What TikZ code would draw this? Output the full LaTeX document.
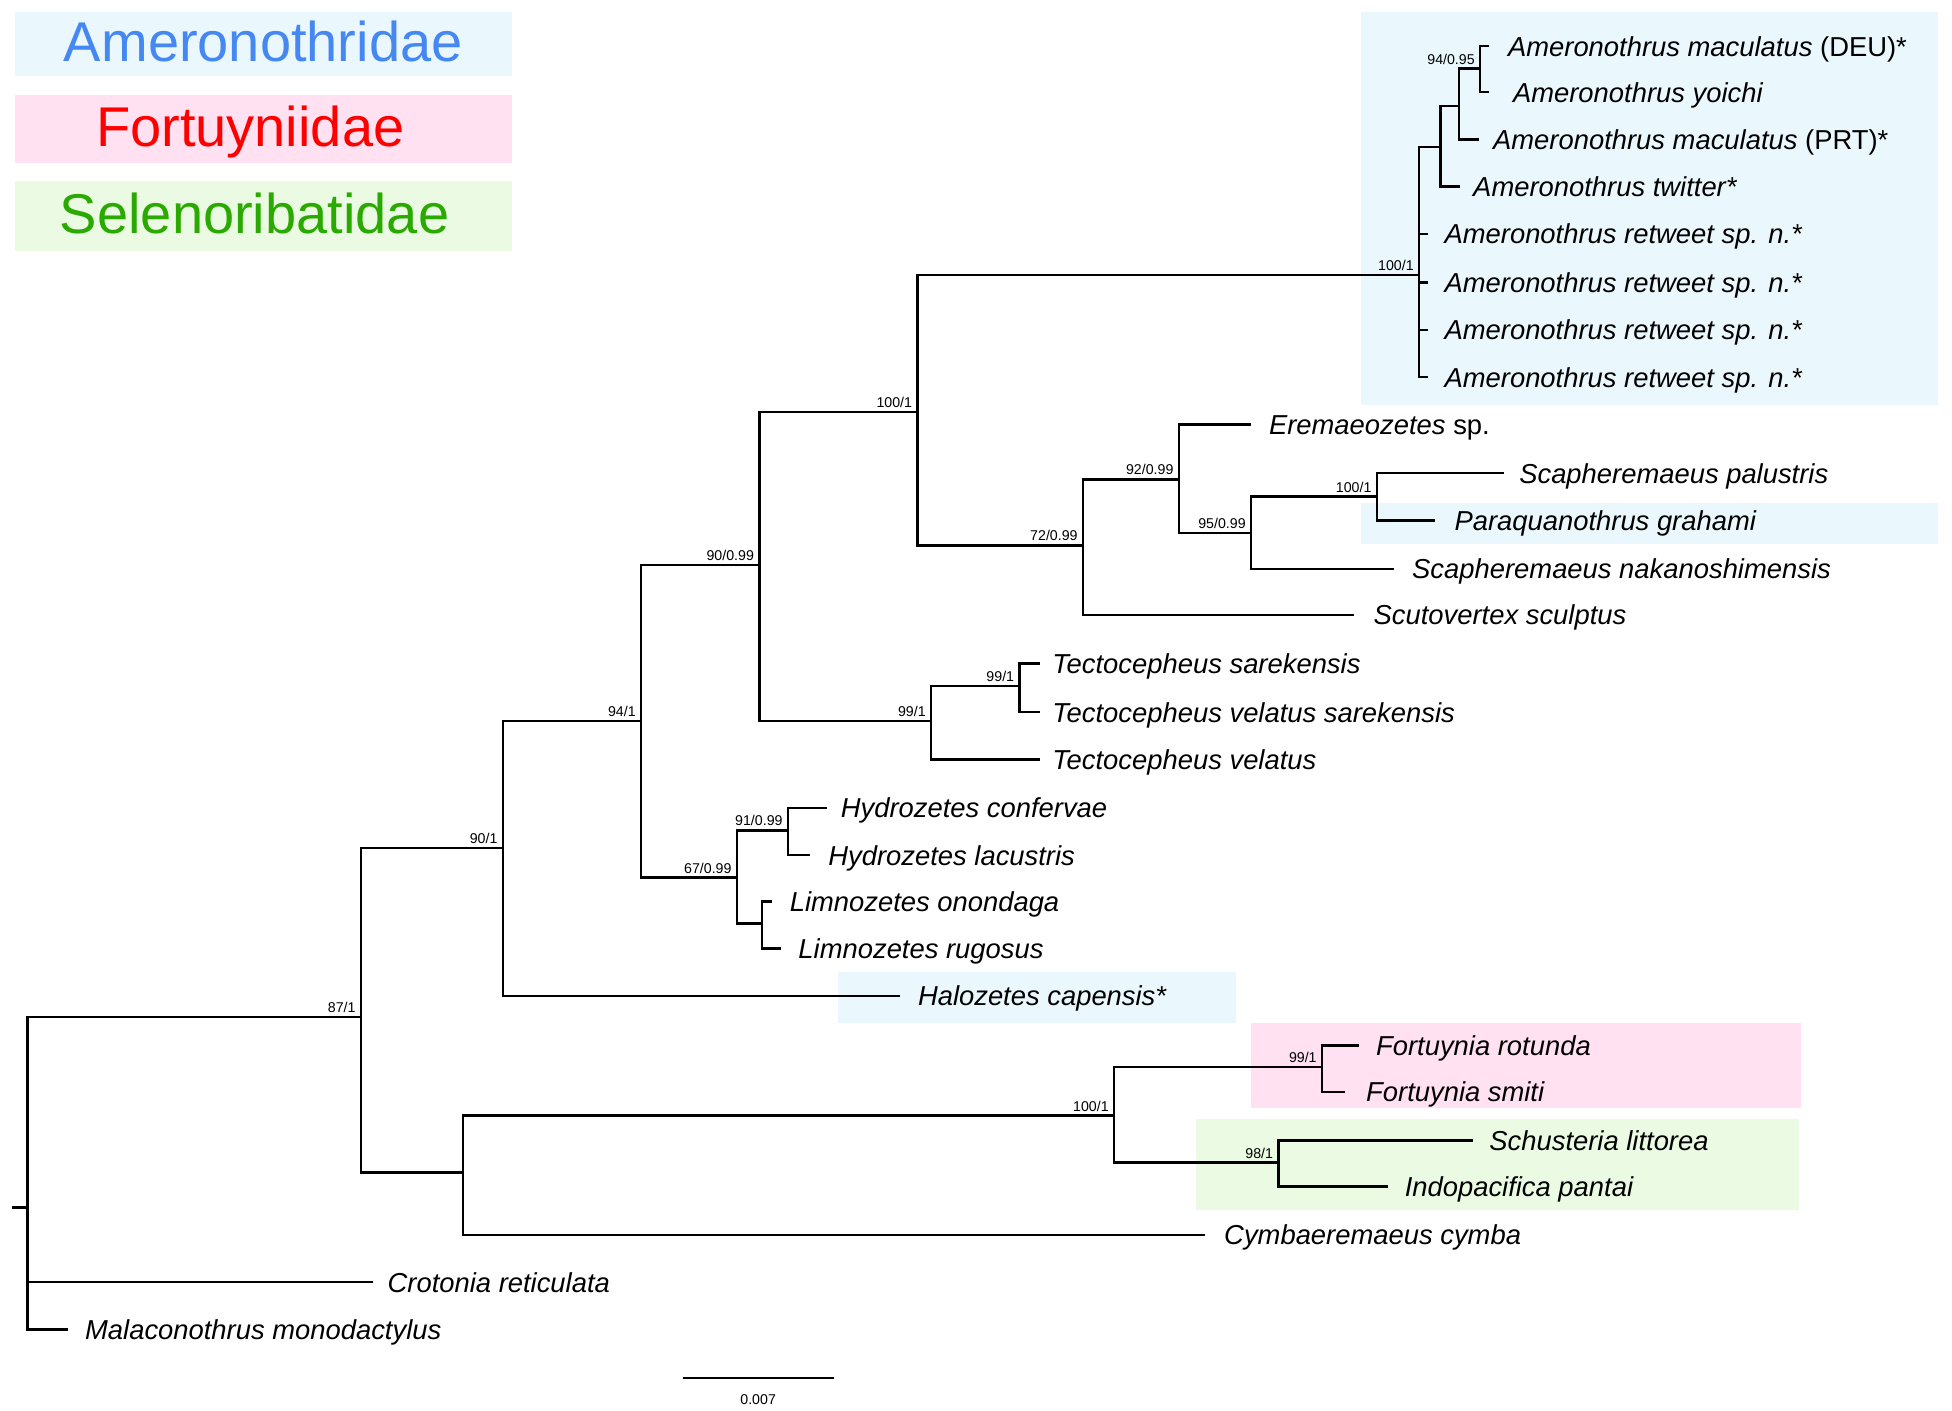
\documentclass[tikz,border=0pt]{standalone}
\usepackage{fontspec}
\setmainfont{Liberation Sans}
\usepackage{xcolor}
\usetikzlibrary{positioning}
\definecolor{AmeroFill}{HTML}{EAF8FE}
\definecolor{FortuFill}{HTML}{FFE1F1}
\definecolor{SelenoFill}{HTML}{EBFBE3}
\definecolor{AmeroText}{HTML}{4588F2}
\definecolor{FortuText}{HTML}{FF0000}
\definecolor{SelenoText}{HTML}{2AAA00}
\tikzset{
  % rami dell'albero
  branch/.style={line width=1pt,black},
  % nomi dei taxa e supporti
  taxon/.style={anchor=base west,inner sep=0pt,yshift=-4pt,font=\fontsize{11}{13}\selectfont\itshape},
  support/.style={anchor=south east,inner sep=0pt,xshift=-2pt,yshift=1.5pt,font=\fontsize{5.7}{7}\selectfont},
  legend/.style={anchor=base,inner sep=0pt,font=\fontsize{22.5}{26}\selectfont}
}

\begin{document}
\begin{tikzpicture}[x=0.5pt,y=-0.5pt]
    \useasboundingbox (0,0) rectangle (1568,1133);
    % family boxes
    \fill[AmeroFill] (1093,10) rectangle (1557,325);
    \fill[AmeroFill] (1093,404) rectangle (1557,437);
    \fill[AmeroFill] (673,781) rectangle (993,822);
    \fill[FortuFill] (1005,822) rectangle (1447,890);
    \fill[SelenoFill] (961,899) rectangle (1445,972);
    % legend
    \fill[AmeroFill] (12,10) rectangle (411,61);
    \fill[FortuFill] (12,76) rectangle (411,131);
    \fill[SelenoFill] (12,145) rectangle (411,202);
    \node[legend,text=AmeroText] (legAmero) at (211.5,49.6) {Ameronothridae};
    \node[legend,text=FortuText] (legFortu) at (201,118) {Fortuyniidae};
    \node[legend,text=SelenoText] (legSeleno) at (204.5,187.7) {Selenoribatidae};

    % internal nodes
    \coordinate (root) at (22,970);
    \coordinate (n87) at (290,817);
    \coordinate (n90) at (404,681);
    \coordinate (n94) at (515,579);
    \coordinate (n9099) at (610,454);
    \coordinate (n100a) at (737,331);
    \coordinate (nAmero) at (1140,221);
    \coordinate (nG) at (1157,118);
    \coordinate (nH) at (1172,85);
    \coordinate (nI) at (1189,55);
    \coordinate (n72) at (870,438);
    \coordinate (n92) at (947,385);
    \coordinate (n95) at (1005,428);
    \coordinate (n100b) at (1106,399);
    \coordinate (n99a) at (748,579);
    \coordinate (n99b) at (819,551);
    \coordinate (n67) at (592,705);
    \coordinate (n91) at (633,667);
    \coordinate (nLimno) at (612,742);
    \coordinate (nQ) at (372,942);
    \coordinate (n100c) at (895,896);
    \coordinate (n99c) at (1062,857);
    \coordinate (n98) at (1027,934);

    % leaves
    \coordinate (lDEU) at (1196,37);
    \coordinate (lYoichi) at (1196,74);
    \coordinate (lPRT) at (1188,112);
    \coordinate (lTwitter) at (1173,150);
    \coordinate (lErem) at (1005,341);
    \coordinate (lPalus) at (1208,380);
    \coordinate (lGraham) at (1153,418);
    \coordinate (lNakano) at (1120,457);
    \coordinate (lScuto) at (1088,494);
    \coordinate (lTsar) at (835,533);
    \coordinate (lTvelsar) at (835,572);
    \coordinate (lTvel) at (835,610);
    \coordinate (lHconf) at (664,649);
    \coordinate (lHlac) at (651,687);
    \coordinate (lLonon) at (620,724);
    \coordinate (lLrug) at (627,762);
    \coordinate (lHalo) at (723,800);
    \coordinate (lFrot) at (1092,840);
    \coordinate (lFsmi) at (1080,877);
    \coordinate (lSchus) at (1183,916);
    \coordinate (lIndo) at (1115,953);
    \coordinate (lCymba) at (968,992);
    \coordinate (lCroto) at (300,1030);
    \coordinate (lMalaco) at (55,1068);
    \coordinate (rootTip) at (10,970);

    % branches
    \draw[branch] (rootTip) -- (root);
    \draw[branch] (root) |- (n87);
    \draw[branch] (root) |- (lCroto);
    \draw[branch] (root) |- (lMalaco);
    \draw[branch] (n87) |- (n90);
    \draw[branch] (n87) |- (nQ);
    \draw[branch] (n90) |- (n94);
    \draw[branch] (n90) |- (lHalo);
    \draw[branch] (n94) |- (n9099);
    \draw[branch] (n94) |- (n67);
    \draw[branch] (n9099) |- (n100a);
    \draw[branch] (n9099) |- (n99a);
    \draw[branch] (n100a) |- (nAmero);
    \draw[branch] (n100a) |- (n72);
    \draw[branch] (nAmero) |- (nG);
    \draw[branch] (nG) |- (nH);
    \draw[branch] (nG) |- (lTwitter);
    \draw[branch] (nH) |- (nI);
    \draw[branch] (nH) |- (lPRT);
    \draw[branch] (nI) |- (lDEU);
    \draw[branch] (nI) |- (lYoichi);
    \foreach \i/\y in {1/188,2/227,3/265,4/303} {
      \coordinate (lRet\i) at (1147,\y);
      \draw[branch] (nAmero) |- (lRet\i);
      \node[taxon] (tRet\i) at (1160,\y) {Ameronothrus retweet sp. n.*};
    }
    \draw[branch] (n72) |- (n92);
    \draw[branch] (n72) |- (lScuto);
    \draw[branch] (n92) |- (lErem);
    \draw[branch] (n92) |- (n95);
    \draw[branch] (n95) |- (n100b);
    \draw[branch] (n95) |- (lNakano);
    \draw[branch] (n100b) |- (lPalus);
    \draw[branch] (n100b) |- (lGraham);
    \draw[branch] (n99a) |- (n99b);
    \draw[branch] (n99a) |- (lTvel);
    \draw[branch] (n99b) |- (lTsar);
    \draw[branch] (n99b) |- (lTvelsar);
    \draw[branch] (n67) |- (n91);
    \draw[branch] (n67) |- (nLimno);
    \draw[branch] (n91) |- (lHconf);
    \draw[branch] (n91) |- (lHlac);
    \draw[branch] (nLimno) |- (lLonon);
    \draw[branch] (nLimno) |- (lLrug);
    \draw[branch] (nQ) |- (n100c);
    \draw[branch] (nQ) |- (lCymba);
    \draw[branch] (n100c) |- (n99c);
    \draw[branch] (n100c) |- (n98);
    \draw[branch] (n99c) |- (lFrot);
    \draw[branch] (n99c) |- (lFsmi);
    \draw[branch] (n98) |- (lSchus);
    \draw[branch] (n98) |- (lIndo);

    % support values
    \foreach \n/\s in {n87/{87/1},n90/{90/1},n94/{94/1},n9099/{90/0.99},n100a/{100/1},
      nAmero/{100/1},nI/{94/0.95},n72/{72/0.99},n92/{92/0.99},n95/{95/0.99},
      n100b/{100/1},n99a/{99/1},n99b/{99/1},n67/{67/0.99},n91/{91/0.99},
      n100c/{100/1},n99c/{99/1},n98/{98/1}} {
      \node[support] (s\n) at (\n) {\s};
    }

    % taxa
    \node[taxon] (tDEU) at (1211,37) {Ameronothrus maculatus \textup{(DEU)*}};
    \node[taxon] (tYoichi) at (1215,74) {Ameronothrus yoichi};
    \node[taxon] (tPRT) at (1199,112) {Ameronothrus maculatus \textup{(PRT)*}};
    \node[taxon] (tTwitter) at (1183,150) {Ameronothrus twitter*};
    \node[taxon] (tErem) at (1019,341) {Eremaeozetes \textup{sp.}};
    \node[taxon] (tPalus) at (1220,380) {Scapheremaeus palustris};
    \node[taxon] (tGraham) at (1168,418) {Paraquanothrus grahami};
    \node[taxon] (tNakano) at (1134,457) {Scapheremaeus nakanoshimensis};
    \node[taxon] (tScuto) at (1103,494) {Scutovertex sculptus};
    \node[taxon] (tTsar) at (845,533) {Tectocepheus sarekensis};
    \node[taxon] (tTvelsar) at (845,572) {Tectocepheus velatus sarekensis};
    \node[taxon] (tTvel) at (845,610) {Tectocepheus velatus};
    \node[taxon] (tHconf) at (675,649) {Hydrozetes confervae};
    \node[taxon] (tHlac) at (665,687) {Hydrozetes lacustris};
    \node[taxon] (tLonon) at (634,724) {Limnozetes onondaga};
    \node[taxon] (tLrug) at (641,762) {Limnozetes rugosus};
    \node[taxon] (tHalo) at (737,800) {Halozetes capensis*};
    \node[taxon] (tFrot) at (1105,840) {Fortuynia rotunda};
    \node[taxon] (tFsmi) at (1097,877) {Fortuynia smiti};
    \node[taxon] (tSchus) at (1196,916) {Schusteria littorea};
    \node[taxon] (tIndo) at (1128,953) {Indopacifica pantai};
    \node[taxon] (tCymba) at (983,992) {Cymbaeremaeus cymba};
    \node[taxon] (tCroto) at (311,1030) {Crotonia reticulata};
    \node[taxon] (tMalaco) at (68,1068) {Malaconothrus monodactylus};

    % scale bar
    \coordinate (sbL) at (549,1107);
    \coordinate (sbR) at (670,1107);
    \draw[branch,line width=0.6pt] (sbL) -- (sbR);
    \node[font=\fontsize{5.7}{7}\selectfont,inner sep=0pt] (sbLabel) at (609,1124) {0.007};
\end{tikzpicture}
\end{document}
